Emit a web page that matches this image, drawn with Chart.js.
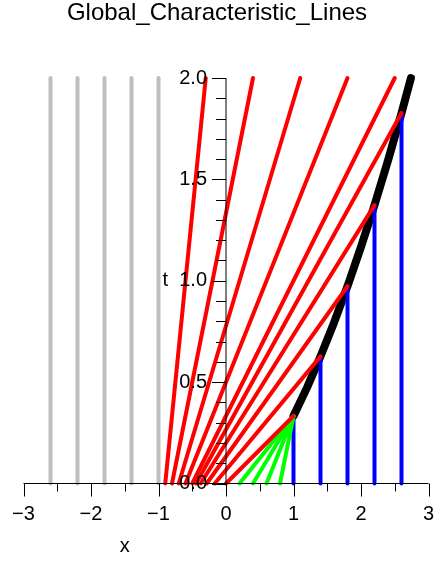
<!DOCTYPE html>
<html>
<head>
<meta charset="utf-8">
<script src="https://cdn.jsdelivr.net/npm/chart.js@4"></script>
<style>
  html, body { margin: 0; padding: 0; background: #fff; }
  #wrap { width: 434px; height: 561px; }
</style>
</head>
<body>
<div id="wrap"><canvas id="chars" width="434" height="561"></canvas></div>
<script>
// values
const grayX = [-2.6, -2.2, -1.8, -1.4, -1.0];
const grayTopT = 2.0;

const redStartX = [-0.9, -0.8, -0.7, -0.6, -0.5, -0.444, -0.375, -0.286, -0.167, 0.0];
const redEndX = [-0.3, 0.4, 1.1, 1.8, 2.5, 2.6, 2.2, 1.8, 1.4, 1.0];
const redEndT = [2.0, 2.0, 2.0, 2.0, 2.0, 1.827, 1.373, 0.973, 0.627, 0.333];

const greenStartX = [0.2, 0.4, 0.6, 0.8];
const greenEndX = 1.0;
const greenEndT = 0.333;

const blueX = [1.0, 1.4, 1.8, 2.2, 2.6];
const blueTopT = [0.333, 0.627, 0.973, 1.373, 1.827];

const shockX = [1.0, 1.2, 1.4, 1.6, 1.8, 2.0, 2.2, 2.4, 2.6, 2.74];
const shockT = [0.333, 0.473, 0.627, 0.793, 0.973, 1.167, 1.373, 1.593, 1.827, 2.0];

const xTickLabels = ['\u22123', '\u22122', '\u22121', '0', '1', '2', '3'];
const yTickLabels = ['0.0', '0.5', '1.0', '1.5', '2.0'];

const FONT = '"Liberation Sans", Arial, sans-serif';

function seg(pts, color, width) {
    return {
        data: pts,
        showLine: true,
        borderColor: color,
        borderWidth: width,
        borderCapStyle: 'round',
        borderJoinStyle: 'round',
        pointRadius: 0,
        clip: false,
        tension: 0
    };
}

const datasets = [];
grayX.forEach(function (x) {
    datasets.push(seg([{x: x, y: 0}, {x: x, y: grayTopT}], '#BEBEBE', 4));
});
redStartX.forEach(function (x, i) {
    datasets.push(seg([{x: x, y: 0}, {x: redEndX[i], y: redEndT[i]}], '#FF0000', 4));
});
greenStartX.forEach(function (x) {
    datasets.push(seg([{x: x, y: 0}, {x: greenEndX, y: greenEndT}], '#00FF00', 4));
});
blueX.forEach(function (x, i) {
    datasets.push(seg([{x: x, y: 0}, {x: x, y: blueTopT[i]}], '#0000FF', 4));
});
datasets.push(seg(shockX.map(function (x, i) { return {x: x, y: shockT[i]}; }), '#000000', 8));

// R style axes crossing at the origin, plus title and labels
const rAxes = {
    id: 'rAxes',
    afterDatasetsDraw: function (chart) {
        const ctx = chart.ctx;
        const sx = chart.scales.x;
        const sy = chart.scales.y;
        const x0 = sx.getPixelForValue(0);
        const y0 = sy.getPixelForValue(0);
        ctx.save();
        ctx.strokeStyle = '#000';
        ctx.fillStyle = '#000';
        ctx.lineWidth = 1;

        // x axis
        ctx.beginPath();
        ctx.moveTo(sx.getPixelForValue(-3), y0);
        ctx.lineTo(sx.getPixelForValue(3), y0);
        for (let k = -6; k <= 6; k++) {
            const px = Math.round(sx.getPixelForValue(k / 2)) + 0.5;
            ctx.moveTo(px, y0);
            ctx.lineTo(px, y0 + (k % 2 === 0 ? 13 : 8));
        }
        ctx.stroke();

        // y axis
        ctx.beginPath();
        ctx.moveTo(x0, sy.getPixelForValue(0));
        ctx.lineTo(x0, sy.getPixelForValue(2));
        for (let k = 0; k <= 20; k++) {
            const py = Math.round(sy.getPixelForValue(k / 10)) + 0.5;
            ctx.moveTo(x0, py);
            ctx.lineTo(x0 - (k % 5 === 0 ? 14 : 10), py);
        }
        ctx.stroke();

        ctx.font = '20px ' + FONT;
        ctx.textBaseline = 'middle';
        ctx.textAlign = 'center';
        xTickLabels.forEach(function (lab, i) {
            ctx.fillText(lab, sx.getPixelForValue(i - 3), y0 + 31);
        });
        ctx.textAlign = 'right';
        yTickLabels.forEach(function (lab, i) {
            ctx.fillText(lab, x0 - 19, sy.getPixelForValue(i * 0.5));
        });

        // axis names
        ctx.textAlign = 'center';
        ctx.fillText('x', sx.getPixelForValue(-1.5), 546);
        ctx.fillText('t', sx.getPixelForValue(-0.9), sy.getPixelForValue(1.0));

        // title
        ctx.font = '24px ' + FONT;
        ctx.fillText('Global_Characteristic_Lines', 217, 13);
        ctx.restore();
    }
};

const ctx = document.getElementById('chars').getContext('2d');
const charsChart = new Chart(ctx, {
    type: 'scatter',
    data: { datasets: datasets },
    options: {
        responsive: false,
        animation: false,
        layout: {
            padding: { left: 23.5, right: 5.5, top: 78, bottom: 77.5 }
        },
        plugins: {
            legend: { display: false },
            tooltip: { enabled: false }
        },
        scales: {
            x: { type: 'linear', min: -3, max: 3, display: false },
            y: { type: 'linear', min: 0, max: 2, display: false }
        }
    },
    plugins: [rAxes]
});
</script>
</body>
</html>
